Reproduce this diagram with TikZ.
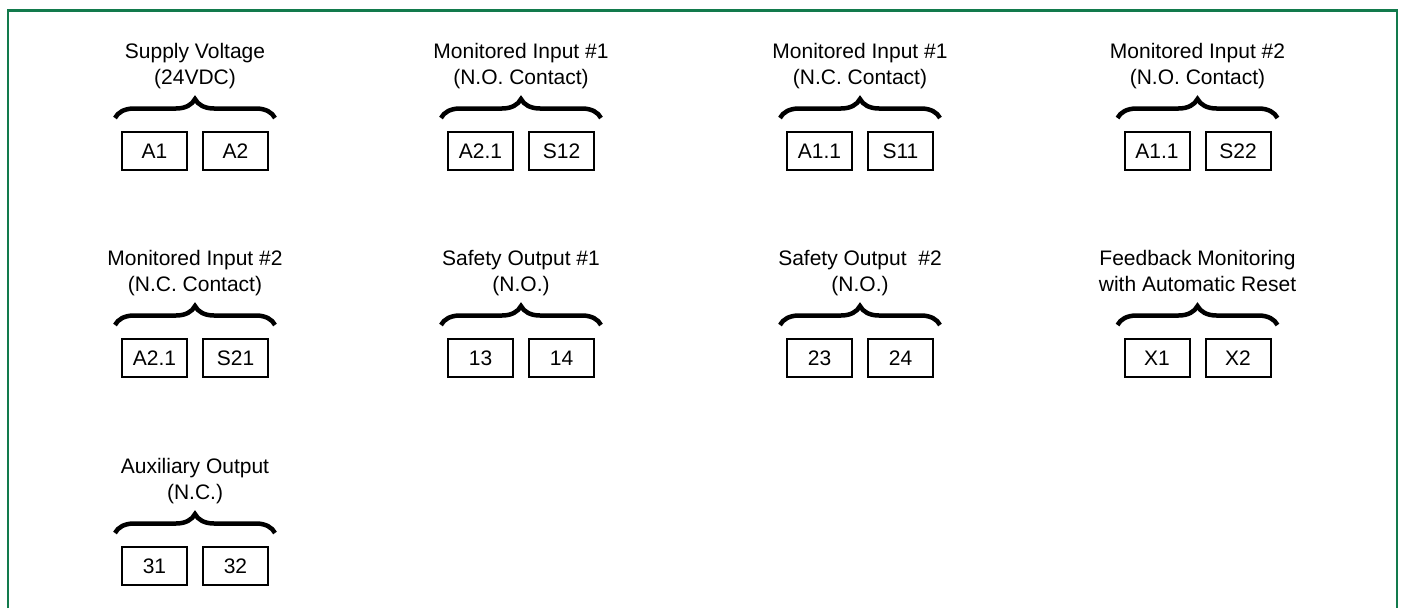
\documentclass[tikz,border=0pt]{standalone}
\usepackage{fontspec}
\setmainfont{Liberation Sans}
\usetikzlibrary{positioning,decorations.pathreplacing}
\definecolor{framegreen}{HTML}{127A4C}

\begin{document}
\begin{tikzpicture}[x=1pt,y=-1pt]
    \tikzstyle{every node}=[font=\fontsize{21}{26}\selectfont]
    \tikzstyle{title}=[align=center,anchor=base,inner sep=0pt]
    \tikzstyle{term}=[draw,line width=2pt,minimum width=65pt,minimum height=38pt,inner sep=0pt]
    \tikzstyle{grp}=[decorate,decoration={brace,amplitude=19pt},line width=4.5pt]
    \useasboundingbox (0,0) rectangle (1406,608);
    \draw[framegreen,line width=2.5pt] (8,608) -- (8,10.5) -- (1397,10.5) -- (1397,608);

    % row 1
    \node[title] (supply) at (195,84) {Supply Voltage\\(24VDC)};
    \node[term] (a1) at (154.5,151) {A1};
    \node[term,right=14pt of a1] (a2) {A2};
    \draw[grp] ([xshift=-6pt,yshift=13pt]a1.north west) -- ([xshift=6pt,yshift=13pt]a2.north east);

    \node[title] (in1no) at (521,84) {Monitored Input \#1\\(N.O. Contact)};
    \node[term] (a21) at (480.5,151) {A2.1};
    \node[term,right=14pt of a21] (s12) {S12};
    \draw[grp] ([xshift=-6pt,yshift=13pt]a21.north west) -- ([xshift=6pt,yshift=13pt]s12.north east);

    \node[title] (in1nc) at (860,84) {Monitored Input \#1\\(N.C. Contact)};
    \node[term] (a11) at (819.5,151) {A1.1};
    \node[term,right=14pt of a11] (s11) {S11};
    \draw[grp] ([xshift=-6pt,yshift=13pt]a11.north west) -- ([xshift=6pt,yshift=13pt]s11.north east);

    \node[title] (in2no) at (1197.5,84) {Monitored Input \#2\\(N.O. Contact)};
    \node[term] (a11b) at (1157,151) {A1.1};
    \node[term,right=14pt of a11b] (s22) {S22};
    \draw[grp] ([xshift=-6pt,yshift=13pt]a11b.north west) -- ([xshift=6pt,yshift=13pt]s22.north east);

    % row 2
    \node[title] (in2nc) at (195,291) {Monitored Input \#2\\(N.C. Contact)};
    \node[term] (a21b) at (154.5,358) {A2.1};
    \node[term,right=14pt of a21b] (s21) {S21};
    \draw[grp] ([xshift=-6pt,yshift=13pt]a21b.north west) -- ([xshift=6pt,yshift=13pt]s21.north east);

    \node[title] (out1) at (521,291) {Safety Output \#1\\(N.O.)};
    \node[term] (t13) at (480.5,358) {13};
    \node[term,right=14pt of t13] (t14) {14};
    \draw[grp] ([xshift=-6pt,yshift=13pt]t13.north west) -- ([xshift=6pt,yshift=13pt]t14.north east);

    \node[title] (out2) at (860,291) {Safety Output\ \ \#2\\(N.O.)};
    \node[term] (t23) at (819.5,358) {23};
    \node[term,right=14pt of t23] (t24) {24};
    \draw[grp] ([xshift=-6pt,yshift=13pt]t23.north west) -- ([xshift=6pt,yshift=13pt]t24.north east);

    \node[title] (fbk) at (1197.5,291) {Feedback Monitoring\\with Automatic Reset};
    \node[term] (x1) at (1157,358) {X1};
    \node[term,right=14pt of x1] (x2) {X2};
    \draw[grp] ([xshift=-6pt,yshift=13pt]x1.north west) -- ([xshift=6pt,yshift=13pt]x2.north east);

    % row 3
    \node[title] (aux) at (195,499) {Auxiliary Output\\(N.C.)};
    \node[term] (t31) at (154.5,566) {31};
    \node[term,right=14pt of t31] (t32) {32};
    \draw[grp] ([xshift=-6pt,yshift=13pt]t31.north west) -- ([xshift=6pt,yshift=13pt]t32.north east);
\end{tikzpicture}
\end{document}
